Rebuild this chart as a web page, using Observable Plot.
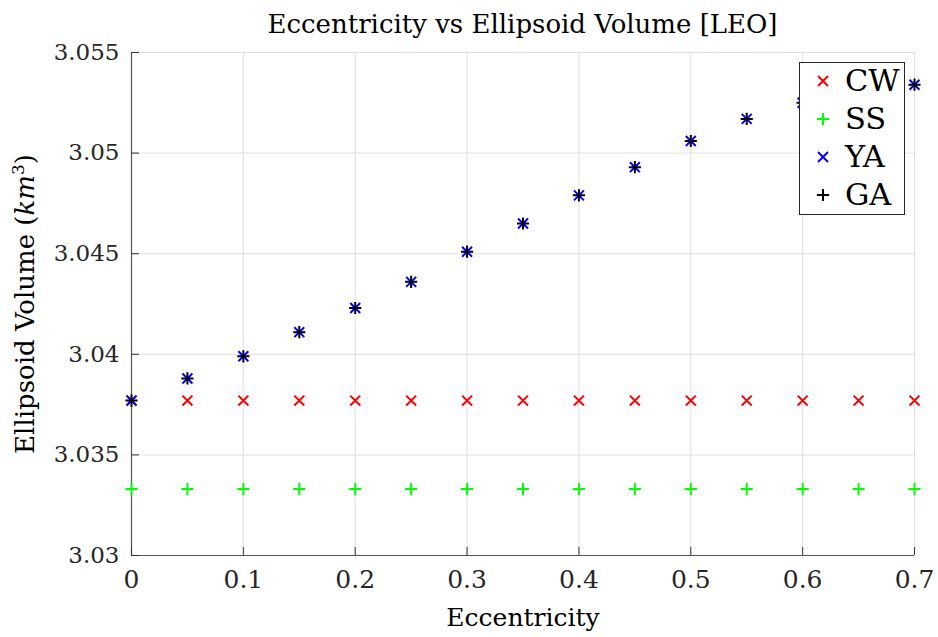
<!DOCTYPE html>
<html>
<head>
<meta charset="utf-8">
<script src="https://cdn.jsdelivr.net/npm/d3@7"></script>
<script src="https://cdn.jsdelivr.net/npm/@observablehq/plot@0.6"></script>
<style>
  body { margin: 0; background: #fff; font-family: "DejaVu Serif", serif; }
  #wrap { position: relative; width: 938px; height: 637px; overflow: hidden; background: #fff; }
  #title { position: absolute; left: 131px; width: 783px; top: 9px; text-align: center;
           font-size: 26px; line-height: 30px; color: #000; white-space: nowrap; }
  #chart { position: absolute; left: 0; top: 40px; }
  #legend { position: absolute; left: 799px; top: 62px; width: 104px; height: 151px;
            border: 1px solid #262626; background: #fff; }
  .row { position: absolute; left: 0; height: 38px; display: flex; align-items: center; }
  .row svg { margin-left: 13px; }
  .row span { margin-left: 12px; font-size: 30.5px; line-height: 38px; color: #000; }
</style>
</head>
<body>
<div id="wrap">
  <div id="title">Eccentricity vs Ellipsoid Volume [LEO]</div>
  <div id="chart"></div>
  <div id="legend"></div>
</div>
<script>
// ---- data ----
const eccentricity = [0, 0.05, 0.1, 0.15, 0.2, 0.25, 0.3, 0.35, 0.4, 0.45, 0.5, 0.55, 0.6, 0.65, 0.7];
const cwVolume = [3.0377, 3.0377, 3.0377, 3.0377, 3.0377, 3.0377, 3.0377, 3.0377, 3.0377, 3.0377, 3.0377, 3.0377, 3.0377, 3.0377, 3.0377];
const ssVolume = [3.0333, 3.0333, 3.0333, 3.0333, 3.0333, 3.0333, 3.0333, 3.0333, 3.0333, 3.0333, 3.0333, 3.0333, 3.0333, 3.0333, 3.0333];
const yaVolume = [3.0377, 3.0388, 3.0399, 3.0411, 3.0423, 3.0436, 3.0451, 3.0465, 3.0479, 3.0493, 3.0506, 3.0517, 3.0525, 3.0530, 3.0534];
const gaVolume = [3.0377, 3.0388, 3.0399, 3.0411, 3.0423, 3.0436, 3.0451, 3.0465, 3.0479, 3.0493, 3.0506, 3.0517, 3.0525, 3.0530, 3.0534];
const seriesNames = ["CW", "SS", "YA", "GA"];
const seriesColors = ["#ff0000", "#00ff00", "#0000ff", "#000000"];
const seriesSymbols = ["times", "plus", "times", "plus"];
const xTicks = [0, 0.1, 0.2, 0.3, 0.4, 0.5, 0.6, 0.7];
const xTickLabels = ["0", "0.1", "0.2", "0.3", "0.4", "0.5", "0.6", "0.7"];
const yTicks = [3.03, 3.035, 3.04, 3.045, 3.05, 3.055];
const yTickLabels = ["3.03", "3.035", "3.04", "3.045", "3.05", "3.055"];
const titleText = "Eccentricity vs Ellipsoid Volume [LEO]";
const xLabel = "Eccentricity";
const yLabel = "Ellipsoid Volume (km3)";

// ---- table ----
const seriesValues = [cwVolume, ssVolume, yaVolume, gaVolume];
const rows = [];
seriesNames.forEach((name, s) => {
  eccentricity.forEach((e, i) => rows.push({series: name, e, v: seriesValues[s][i]}));
});
const symR = {times: 4.6, plus: 4.0};

const marks = [
  Plot.gridX(xTicks, {stroke: "#dfdfdf", strokeOpacity: 1, strokeWidth: 1}),
  Plot.gridY(yTicks, {stroke: "#dfdfdf", strokeOpacity: 1, strokeWidth: 1}),
  Plot.ruleX([xTicks[0]], {stroke: "#555", strokeWidth: 1.2}),
  Plot.ruleY([yTicks[0]], {stroke: "#555", strokeWidth: 1.2}),
  Plot.axisX(xTicks, {tickSize: -8, tickPadding: 23, stroke: "#333", fontSize: 25,
    tickFormat: (d) => xTickLabels[xTicks.indexOf(d)], label: null}),
  Plot.axisY(yTicks, {tickSize: -8, tickPadding: 20, stroke: "#333", fontSize: 23,
    tickFormat: (d) => yTickLabels[yTicks.indexOf(d)], label: null}),
  Plot.text([xLabel], {frameAnchor: "bottom", lineAnchor: "top", dy: 53, fontSize: 25, fill: "#000"}),
  Plot.text([yLabel], {frameAnchor: "left", textAnchor: "middle", lineAnchor: "middle", rotate: -90, dx: -106, fontSize: 26, fill: "#000"})
];
seriesNames.forEach((name, s) => {
  marks.push(Plot.dot(rows.filter(r => r.series === name), {
    x: "e", y: "v", symbol: () => seriesSymbols[s], r: symR[seriesSymbols[s]],
    stroke: seriesColors[s], strokeWidth: 2, fill: "none"
  }));
});

const svg = Plot.plot({
  width: 938,
  height: 597,
  marginLeft: 131,
  marginRight: 24,
  marginTop: 12,
  marginBottom: 82,
  style: {fontFamily: "DejaVu Serif, serif", color: "#262626", background: "#fff", overflow: "visible"},
  x: {domain: [0, 0.7], axis: null},
  y: {domain: [3.03, 3.055], axis: null},
  symbol: {domain: ["times", "plus"], range: ["times", "plus"]},
  marks
});
document.getElementById("chart").appendChild(svg);

// y label with italic km and superscript 3
d3.select(svg).selectAll("text").filter(function() { return this.textContent === yLabel; })
  .each(function() {
    const t = d3.select(this);
    t.text(null);
    t.append("tspan").text("Ellipsoid Volume (");
    t.append("tspan").attr("font-style", "italic").text("km");
    t.append("tspan").attr("font-size", 17).attr("dy", -10).text("3");
    t.append("tspan").attr("dy", 10).text(")");
  });

// legend
const legend = d3.select("#legend");
seriesNames.forEach((name, s) => {
  const row = legend.append("div").attr("class", "row").style("top", (s * 38 - 1) + "px");
  const sv = row.append("svg").attr("width", 20).attr("height", 20);
  const type = seriesSymbols[s] === "times" ? d3.symbolTimes : d3.symbolPlus;
  const r = symR[seriesSymbols[s]];
  sv.append("path").attr("transform", "translate(10,10)")
    .attr("d", d3.symbol(type, Math.PI * r * r)())
    .attr("stroke", seriesColors[s]).attr("stroke-width", 2).attr("fill", "none");
  row.append("span").text(name);
});
</script>
</body>
</html>
